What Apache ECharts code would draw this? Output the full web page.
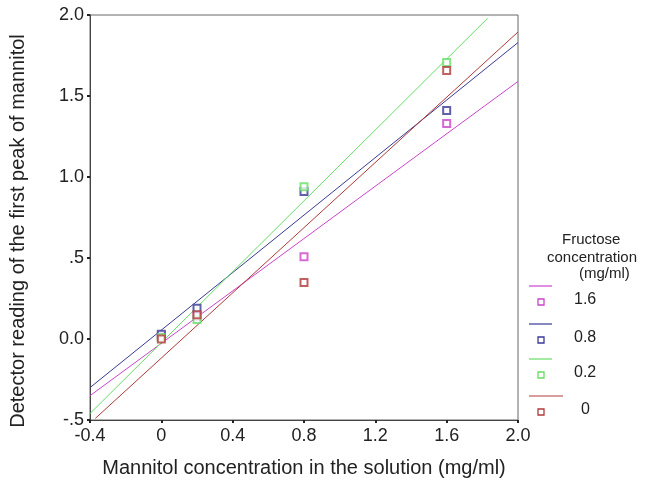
<!DOCTYPE html>
<html><head><meta charset="utf-8">
<script src="https://cdn.jsdelivr.net/npm/echarts@6/dist/echarts.min.js"></script>
<style>html,body{margin:0;padding:0;background:#fff}#c{width:657px;height:483px}</style>
</head><body><div id="c"></div>
<script>
// Data
const xValues = [0, 0.2, 0.8, 1.6];
const groups = ['1.6', '0.8', '0.2', '0'];
const pts16 = [0.02, 0.14, 0.507, 1.33];
const pts08 = [0.03, 0.19, 0.91, 1.41];
const pts02 = [0.01, 0.12, 0.94, 1.707];
const pts00 = [0.00, 0.15, 0.349, 1.658];
// fitted lines, endpoints: [x, y]
const line16 = [[-0.4, -0.35], [2.0, 1.59]];
const line08 = [[-0.4, -0.30], [2.0, 1.83]];
const line02 = [[-0.4, -0.46], [1.83, 1.98]];
const line00 = [[-0.37, -0.49], [2.0, 1.895]];
const xTickLabels = {'-0.4':'-0.4','0':'0','0.4':'0.4','0.8':'0.8','1.2':'1.2','1.6':'1.6','2':'2.0'};
const yTickLabels = {'-0.5':'-.5','0':'0.0','0.5':'.5','1':'1.0','1.5':'1.5','2':'2.0'};

const colors = ['#cc44cc', '#3a3a96', '#66dd66', '#b03a3a'];
const ptsAll = [pts16, pts08, pts02, pts00];
const linesAll = [line16, line08, line02, line00];

const font = 'Liberation Sans, Arial, sans-serif';
const series = [];
linesAll.forEach((l, i) => {
  series.push({type: 'line', data: l, symbol: 'none', silent: true,
    lineStyle: {color: colors[i], width: 1}, z: 2});
});
ptsAll.forEach((p, i) => {
  series.push({type: 'scatter', data: xValues.map((x, j) => [x, p[j]]),
    symbol: 'emptyRect', symbolSize: 7,
    itemStyle: {color: colors[i], borderWidth: 1.3}, z: 3});
});

// legend and y-axis title drawn as graphics
const legendEls = [];
legendEls.push({type:'text', x: 18, y: 231, rotation: Math.PI/2,
  style:{text:'Detector reading of the first peak of mannitol', font:'20px ' + font, fill:'#222', align:'center', verticalAlign:'middle'}});
legendEls.push({type:'text', left: 562, top: 232, style:{text:'Fructose', font:'15px ' + font, fill:'#222'}});
legendEls.push({type:'text', left: 547, top: 250, style:{text:'concentration', font:'15px ' + font, fill:'#222'}});
legendEls.push({type:'text', left: 579, top: 266, style:{text:'(mg/ml)', font:'15px ' + font, fill:'#222'}});
const legY = [286, 324, 359, 396];
const legX2 = [552, 552, 552, 563];
groups.forEach((g, i) => {
  const y = legY[i];
  legendEls.push({type:'line', shape:{x1:529, y1:y, x2:legX2[i], y2:y}, style:{stroke:colors[i], lineWidth:1.2}});
  legendEls.push({type:'rect', shape:{x:538, y:y+13, width:6, height:6}, style:{fill:'#fff', stroke:colors[i], lineWidth:1.3}});
  legendEls.push({type:'text', left: g === '0' ? 581 : 574, top: y+6, style:{text:g, font:'16px ' + font, fill:'#222'}});
});

const chart = echarts.init(document.getElementById('c'));
chart.setOption({
  animation: false,
  backgroundColor: '#fff',
  grid: {left: 90, right: 139, top: 15, bottom: 60, show: true, borderColor: '#666', borderWidth: 1},
  xAxis: {type: 'value', min: -0.4, max: 2.0, interval: 0.4,
    name: 'Mannitol concentration in the solution (mg/ml)', nameLocation: 'middle', nameGap: 38,
    nameTextStyle: {fontSize: 20, fontFamily: font, color: '#222'},
    axisLine: {onZero: false, lineStyle: {color: '#444'}}, splitLine: {show: false},
    axisTick: {show: true, length: 3, lineStyle: {color: '#222', width: 2}},
    axisLabel: {fontSize: 18, fontFamily: font, color: '#222', margin: 7,
      formatter: v => xTickLabels[String(Math.round(v*10)/10)] ?? v}},
  yAxis: {type: 'value', min: -0.5, max: 2.0, interval: 0.5,
    axisLine: {show: true, onZero: false, lineStyle: {color: '#444'}}, splitLine: {show: false},
    axisTick: {show: true, length: 3, lineStyle: {color: '#222', width: 2}},
    axisLabel: {fontSize: 18, fontFamily: font, color: '#222', margin: 6,
      formatter: v => yTickLabels[String(Math.round(v*10)/10)] ?? v}},
  series: series,
  graphic: legendEls
});
</script></body></html>
